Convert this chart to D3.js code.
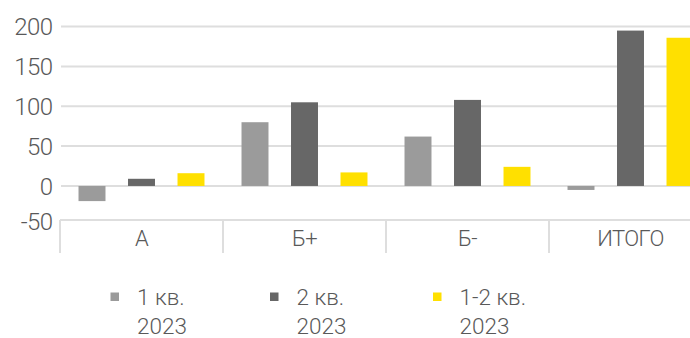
<!DOCTYPE html>
<html>
<head>
<meta charset="utf-8">
<script src="https://cdn.jsdelivr.net/npm/d3@7/dist/d3.min.js"></script>
<style>
  html, body { margin: 0; padding: 0; background: #ffffff; }
  svg { display: block; }
  text { font-family: "Roboto", "DejaVu Sans Condensed", sans-serif; font-weight: 300; fill: #595959; }
  .tick-label, .cat-label { letter-spacing: -0.6px; }
</style>
</head>
<body>
<svg id="chart" width="690" height="338"></svg>
<script>
// Categories and series
const categories = ["А", "Б+", "Б-", "ИТОГО"];
const seriesNames = ["1 кв. 2023", "2 кв. 2023", "1-2 кв. 2023"];
const legendLines = [["1 кв.", "2023"], ["2 кв.", "2023"], ["1-2 кв.", "2023"]];
const q1 = [-19, 80, 62, -5];
const q2 = [9, 105, 108, 195];
const h1 = [16, 17, 24, 186];
const yTicks = [-50, 0, 50, 100, 150, 200];
const colors = ["#9b9b9b", "#676767", "#ffe000"];

const values = [q1, q2, h1];
const rows = categories.map((c, i) => ({
  cat: c,
  vals: seriesNames.map((s, k) => ({ series: s, k, v: values[k][i] }))
}));

const svg = d3.select("#chart");
const W = 690, H = 338;
const plotLeft = 60, plotRight = 712;
const axisY = 220;        // category axis line
const axisBottom = 253;   // bottom of category separators

const x = d3.scaleBand().domain(categories).range([plotLeft, plotRight]).padding(0);
const groupW = 148.5;
const x1 = d3.scaleBand().domain(seriesNames).range([-groupW / 2, groupW / 2])
  .paddingInner(0.455).paddingOuter(0.2275);
const y = d3.scaleLinear().domain([-50, 200]).range([225.8, 26.6]);

// Horizontal gridlines
svg.append("g").selectAll("line")
  .data(yTicks.filter(t => t > -50))
  .join("line")
  .attr("x1", plotLeft + 1).attr("x2", W)
  .attr("y1", d => y(d)).attr("y2", d => y(d))
  .attr("stroke", "#dedede").attr("stroke-width", 2);

// Y tick labels
svg.append("g").selectAll("text")
  .data(yTicks)
  .join("text")
  .attr("class", "tick-label")
  .attr("x", 52.5)
  .attr("y", d => Math.min(y(d), axisY + 1))
  .attr("dy", "0.36em")
  .attr("text-anchor", "end")
  .attr("font-size", 24)
  .text(d => d);

// Bars
const groups = svg.append("g").selectAll("g")
  .data(rows)
  .join("g")
  .attr("transform", d => `translate(${x(d.cat) + x.bandwidth() / 2},0)`);

groups.selectAll("rect")
  .data(d => d.vals)
  .join("rect")
  .attr("x", d => x1(d.series))
  .attr("width", x1.bandwidth())
  .attr("y", d => Math.min(y(d.v), y(0)))
  .attr("height", d => Math.abs(y(d.v) - y(0)))
  .attr("fill", d => colors[d.k]);

// Category axis line and separators
svg.append("line")
  .attr("x1", plotLeft).attr("x2", W)
  .attr("y1", axisY).attr("y2", axisY)
  .attr("stroke", "#dedede").attr("stroke-width", 2);

const seps = categories.map(c => x(c));
svg.append("g").selectAll("line")
  .data(seps)
  .join("line")
  .attr("x1", d => d).attr("x2", d => d)
  .attr("y1", axisY).attr("y2", axisBottom)
  .attr("stroke", "#dedede").attr("stroke-width", 2);

// Category labels
svg.append("g").selectAll("text")
  .data(categories)
  .join("text")
  .attr("class", "cat-label")
  .attr("x", d => x(d) + x.bandwidth() / 2)
  .attr("y", 238)
  .attr("dy", "0.36em")
  .attr("text-anchor", "middle")
  .attr("font-size", 22)
  .text(d => d);

// Legend
const legendX = [110.5, 270, 433];
const leg = svg.append("g").selectAll("g")
  .data(seriesNames)
  .join("g")
  .attr("transform", (d, i) => `translate(${legendX[i]},0)`);

leg.append("rect")
  .attr("x", 0).attr("y", 292.5)
  .attr("width", 8.5).attr("height", 8.5)
  .attr("fill", (d, i) => colors[i]);

leg.each(function (d, i) {
  const g = d3.select(this);
  legendLines[i].forEach((line, j) => {
    g.append("text")
      .attr("x", 26.5)
      .attr("y", 305 + j * 29)
      .attr("font-size", 22.5)
      .text(line);
  });
});
</script>
</body>
</html>
